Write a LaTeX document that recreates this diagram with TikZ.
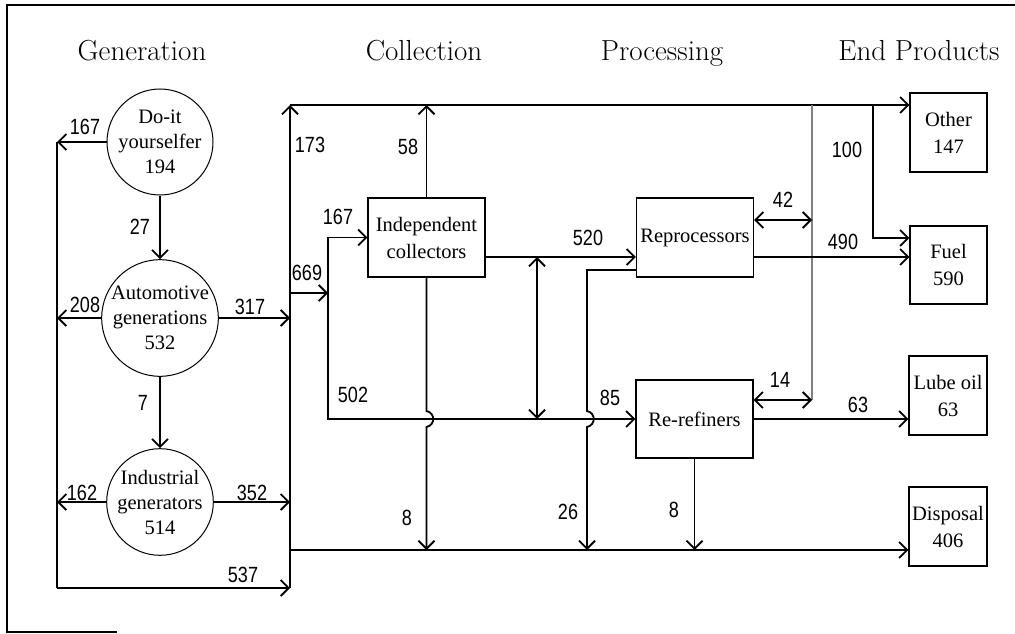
\documentclass[tikz,border=0pt]{standalone}
\usepackage{fontspec}
\newfontfamily\boxfont{Liberation Serif}
\newfontfamily\labfont[FakeStretch=0.82]{Liberation Sans}
\usetikzlibrary{arrows.meta}
\begin{document}
\begin{tikzpicture}[x=1pt,y=-1pt,
  line width=1.8pt,
  arr/.style={-{Straight Barb[length=8pt,width=16pt,line width=1.8pt]}},
  dbl/.style={{Straight Barb[length=8pt,width=16pt,line width=1.8pt]}-{Straight Barb[length=8pt,width=16pt,line width=1.8pt]}},
  circ/.style={circle,draw,line width=1pt,minimum size=106pt,inner sep=0pt,align=center,
    font=\boxfont\fontsize{20.5}{25}\selectfont},
  pbox/.style={rectangle,draw,line width=1.3pt,inner sep=0pt,align=center,
    font=\boxfont\fontsize{20.5}{27}\selectfont},
  lab/.style={inner sep=0pt,font=\labfont\fontsize{22}{24}\selectfont},
  head/.style={inner sep=0pt,anchor=base,font=\fontsize{29}{32}\selectfont},
  frame/.style={line width=1.1pt}]
\useasboundingbox (0,0) rectangle (1015,634);
% frame
\coordinate (F1) at (7,632);
\coordinate (F2) at (7,5);
\coordinate (F3) at (1015,5);
\coordinate (F4) at (117,632);
\draw[frame] (F4) -- (F1) -- (F2) -- (F3);
% headers
\node[head] (hgen) at (142,60) {Generation};
\node[head] (hcol) at (424,60) {Collection};
\node[head] (hpro) at (662,60) {Processing};
\node[head] (hend) at (919,60) {End Products};
% generation circles
\node[circ] (doit) at (160,142) {Do-it\\yourselfer\\194};
\node[circ] (auto) at (160,318) {Automotive\\generations\\532};
\node[circ] (ind) at (160,502) {Industrial\\generators\\514};
% boxes
\node[pbox,minimum width=117pt,minimum height=79pt] (indep) at (426.5,237.5) {Independent\\collectors};
\node[pbox,minimum width=117pt,minimum height=79pt] (reproc) at (695,237.5) {Reprocessors};
\node[pbox,minimum width=117pt,minimum height=78pt] (reref) at (694.5,419) {Re-refiners};
\node[pbox,minimum width=77pt,minimum height=79pt] (other) at (948.5,132.5) {Other\\147};
\node[pbox,minimum width=77pt,minimum height=78pt] (fuel) at (948.5,265) {Fuel\\590};
\node[pbox,minimum width=78pt,minimum height=79pt] (lube) at (948,395.5) {Lube oil\\63};
\node[pbox,minimum width=78pt,minimum height=79pt] (disp) at (948,526.5) {Disposal\\406};
% helper coordinates
\coordinate (Lx) at (57,0);
\coordinate (Rx) at (290,0);
\coordinate (Lbot) at (57,588);
\coordinate (Rbot) at (290,588);
\coordinate (Rtop) at (290,105);
\coordinate (J669) at (290,293);
\coordinate (Cx) at (328,293);
\coordinate (Dl) at (290,550);
\coordinate (Y257) at (0,257);
\coordinate (Y270) at (0,270);
\coordinate (Y238) at (0,238);
\coordinate (Y220) at (0,220);
\coordinate (Y400) at (0,400);
\coordinate (D1) at (537,257);
\coordinate (D2) at (537,419);
\coordinate (Gx) at (812,0);
\coordinate (Gtop) at (812,105);
\coordinate (Gbot) at (812,400);
\coordinate (Hx) at (873,105);
% generation flows
\draw[arr] (doit.west) -- (doit.west -| Lx);
\draw[arr] (doit.south) -- (auto.north);
\draw[arr] (auto.west) -- (auto.west -| Lx);
\draw[arr] (auto.east) -- (auto.east -| Rx);
\draw[arr] (auto.south) -- (ind.north);
\draw[arr] (ind.west) -- (ind.west -| Lx);
\draw[arr] (ind.east) -- (ind.east -| Rx);
\draw (doit.west -| Lx) -- (Lbot);
\draw[arr] (Lbot) -- (Rbot);
\draw[arr] (Rbot) -- (Rtop);
\draw[arr] (Rtop) -- (Rtop -| other.west);
% collection
\draw[arr] (J669) -- (Cx);
\draw[arr] (Cx) |- (indep.west);
\draw[arr] (Cx) |- (reref.west);
\draw[arr] (indep.north) -- (indep.north |- Rtop);
\draw[arr] (indep.south) -- (indep.south |- 0,411) .. controls ([xshift=9pt]indep.south |- 0,413) and ([xshift=9pt]indep.south |- 0,425) .. (indep.south |- 0,427) -- (indep.south |- Dl);
\draw[arr] (Dl) -- (Dl -| disp.west);
\draw[arr] (indep.east |- Y257) -- (reproc.west |- Y257);
\draw[dbl] (D1) -- (D2);
\draw[arr] (reproc.west |- Y270) -- (587,270) -- (587,411) .. controls (596,413) and (596,425) .. (587,427) -- (587,550);
\draw[arr] (reref.south) -- (reref.south |- Dl);
% processing to end products
\draw[line width=1.2pt,gray] (Gtop) -- (Gbot);
\draw[dbl] (reproc.east |- Y220) -- (Gx |- Y220);
\draw[dbl] (reref.east |- Y400) -- (Gbot);
\draw[arr] (reproc.east |- Y257) -- (fuel.west |- Y257);
\draw[arr] (Hx) |- (fuel.west |- Y238);
\draw[arr] (reref.east) -- (reref.east -| lube.west);
% labels
\node[lab] (l167a) at (85,127) {167};
\node[lab] (l27) at (140,227) {27};
\node[lab] (l208) at (85,305) {208};
\node[lab] (l317) at (250,307) {317};
\node[lab] (l7) at (143,403) {7};
\node[lab] (l162) at (82,493) {162};
\node[lab] (l352) at (252,493) {352};
\node[lab] (l537) at (243,575) {537};
\node[lab] (l173) at (310,145) {173};
\node[lab] (l669) at (307,273) {669};
\node[lab] (l167b) at (338,217) {167};
\node[lab] (l58) at (408,147) {58};
\node[lab] (l8a) at (407,518) {8};
\node[lab] (l502) at (353,395) {502};
\node[lab] (l520) at (588,238) {520};
\node[lab] (l85) at (610,398) {85};
\node[lab] (l26) at (568,512) {26};
\node[lab] (l8b) at (674,510) {8};
\node[lab] (l42) at (783,200) {42};
\node[lab] (l14) at (780,380) {14};
\node[lab] (l490) at (843,242) {490};
\node[lab] (l100) at (847,150) {100};
\node[lab] (l63) at (858,405) {63};
\end{tikzpicture}
\end{document}
